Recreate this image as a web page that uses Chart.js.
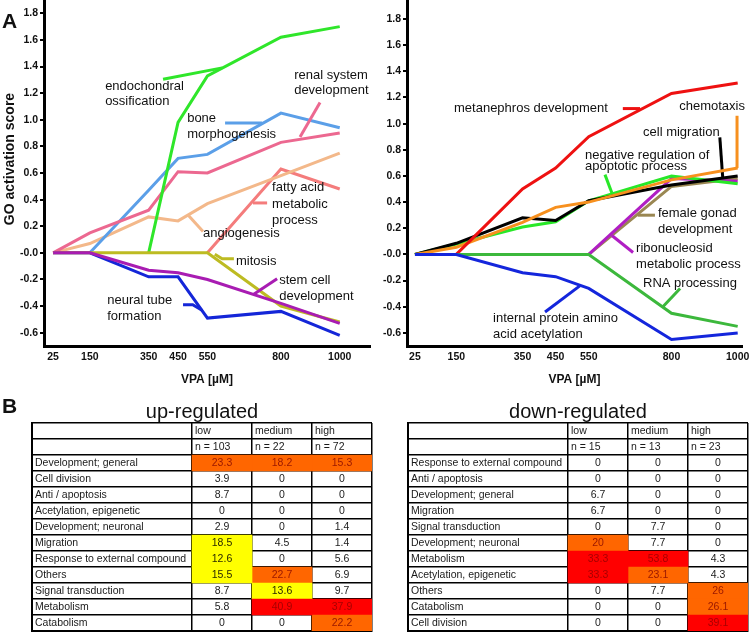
<!DOCTYPE html>
<html>
<head>
<meta charset="utf-8">
<title>VPA GO activation</title>
<script src="https://cdn.jsdelivr.net/npm/chart.js@4.4.1/dist/chart.umd.min.js"></script>
<style>
  body { margin: 0; background: #fff; }
  #page { position: relative; width: 750px; height: 632px; overflow: hidden; }
  canvas { position: absolute; }
  .panel { position: absolute; left: 2px; font: bold 21px/21px Arial, "Liberation Sans", sans-serif; color: #111; }
</style>
</head>
<body>
<div id="page">
  <canvas id="goUp" width="375" height="395" style="left:0;top:0"></canvas>
  <canvas id="goDown" width="375" height="395" style="left:375px;top:0"></canvas>
  <canvas id="tabUp" width="375" height="237" style="left:0;top:395px"></canvas>
  <canvas id="tabDown" width="375" height="237" style="left:375px;top:395px"></canvas>
  <div class="panel" style="top:10px">A</div>
  <div class="panel" style="top:395px">B</div>
</div>
<script>
// VPA doses (µM)
var doses = [25, 150, 350, 450, 550, 800, 1000];
var scoreTicks = [1.8, 1.6, 1.4, 1.2, 1.0, 0.8, 0.6, 0.4, 0.2, 0, -0.2, -0.4, -0.6];

// left panel, GO activation score per dose
var endochondralOssification = [null, null, 0, 0.98, 1.33, 1.62, 1.70];
var boneMorphogenesis = [null, 0, 0.47, 0.71, 0.74, 1.05, 0.94];
var renalSystemDevelopment = [0, 0.15, 0.32, 0.61, 0.60, 0.83, 0.90];
var fattyAcidMetabolic = [null, null, null, null, 0, 0.63, 0.48];
var angiogenesis = [0, 0.07, 0.27, 0.24, 0.37, 0.58, 0.75];
var mitosis = [0, 0, 0, 0, 0, -0.40, -0.52];
var stemCellDevelopment = [0, 0, -0.13, -0.15, -0.20, -0.38, -0.53];
var neuralTubeFormation = [0, 0, -0.18, -0.18, -0.49, -0.44, -0.62];

// right panel
var metanephrosDevelopment = [null, 0, 0.50, 0.66, 0.90, 1.23, 1.31];
var chemotaxis = [0, 0.055, 0.245, 0.36, 0.40, 0.57, 0.66];
var cellMigration = [0, 0.085, 0.28, 0.26, 0.41, 0.53, 0.60];
var negRegApoptotic = [0, 0.08, 0.21, 0.25, 0.41, 0.60, 0.54];
var ribonucleosidMetabolic = [null, null, null, null, 0, 0.58, 0.56];
var femaleGonadDevelopment = [null, null, null, null, 0, 0.52, 0.58];
var rnaProcessing = [0, 0, 0, 0, 0, -0.45, -0.55];
var proteinAcetylation = [0, 0, -0.14, -0.17, -0.26, -0.65, -0.60];

// tables (% of genes per category)
var upCategories = ['Development; general', 'Cell division', 'Anti / apoptosis', 'Acetylation, epigenetic',
  'Development; neuronal', 'Migration', 'Response to external compound', 'Others',
  'Signal transduction', 'Metabolism', 'Catabolism'];
var upN = [103, 22, 72];
var upLow = [23.3, 3.9, 8.7, 0, 2.9, 18.5, 12.6, 15.5, 8.7, 5.8, 0];
var upMedium = [18.2, 0, 0, 0, 0, 4.5, 0, 22.7, 13.6, 40.9, 0];
var upHigh = [15.3, 0, 0, 0, 1.4, 1.4, 5.6, 6.9, 9.7, 37.9, 22.2];
// highlight level in the figure: 0 none, 1 yellow, 2 orange, 3 red
var upLowMark = [2, 0, 0, 0, 0, 1, 1, 1, 0, 0, 0];
var upMediumMark = [2, 0, 0, 0, 0, 0, 0, 2, 1, 3, 0];
var upHighMark = [2, 0, 0, 0, 0, 0, 0, 0, 0, 3, 2];

var downCategories = ['Response to external compound', 'Anti / apoptosis', 'Development; general', 'Migration',
  'Signal transduction', 'Development; neuronal', 'Metabolism', 'Acetylation, epigenetic',
  'Others', 'Catabolism', 'Cell division'];
var downN = [15, 13, 23];
var downLow = [0, 0, 6.7, 6.7, 0, 20, 33.3, 33.3, 0, 0, 0];
var downMedium = [0, 0, 0, 0, 7.7, 7.7, 53.8, 23.1, 7.7, 0, 0];
var downHigh = [0, 0, 0, 0, 0, 0, 4.3, 4.3, 26, 26.1, 39.1];
var downLowMark = [0, 0, 0, 0, 0, 2, 3, 3, 0, 0, 0];
var downMediumMark = [0, 0, 0, 0, 0, 0, 3, 2, 0, 0, 0];
var downHighMark = [0, 0, 0, 0, 0, 0, 0, 0, 2, 2, 3];

Chart.defaults.font.family = 'Arial, "Liberation Sans", sans-serif';
Chart.defaults.animation = false;

var narrow = '"Liberation Sans Narrow", "Arial Narrow", Arial, sans-serif';

function series(values, color) {
  return {
    data: doses.map(function (d, i) { return { x: d, y: values[i] }; }),
    borderColor: color, borderWidth: 3, pointRadius: 0, fill: false
  };
}

// short connector from a term label to its line
function leader(points, color) {
  return {
    data: points.map(function (p) { return { x: p[0], y: p[1] }; }),
    borderColor: color, borderWidth: 3, pointRadius: 0, fill: false
  };
}

function labelPlugin(items, yTitle) {
  return {
    id: 'termLabels',
    afterDatasetsDraw: function (chart) {
      var ctx = chart.ctx, xs = chart.scales.x, ys = chart.scales.y;
      ctx.save();
      ctx.font = '13px Arial, "Liberation Sans", sans-serif';
      ctx.fillStyle = '#111';
      ctx.textBaseline = 'middle';
      items.forEach(function (it) {
        var px = xs.getPixelForValue(it.at[0]);
        var py = ys.getPixelForValue(it.at[1]);
        ctx.textAlign = it.align || 'left';
        it.text.forEach(function (t, k) {
          ctx.fillText(t, px, py + k * (it.gap || 16));
        });
      });
      if (yTitle) {
        ctx.translate(10, 159);
        ctx.rotate(-Math.PI / 2);
        ctx.textAlign = 'center';
        ctx.font = 'bold 14px Arial, "Liberation Sans", sans-serif';
        ctx.fillText(yTitle, 0, 0);
      }
      ctx.restore();
    }
  };
}

function goChart(id, datasets, xMin, xMax, yMax, axisWidth, padRight, items, yTitle) {
  return new Chart(document.getElementById(id), {
    type: 'line',
    data: { datasets: datasets },
    options: {
      responsive: false,
      layout: { padding: { left: 0, right: padRight, top: 0, bottom: 0 } },
      plugins: { legend: { display: false }, tooltip: { enabled: false } },
      scales: {
        x: {
          type: 'linear', min: xMin, max: xMax,
          afterBuildTicks: function (s) { s.ticks = doses.map(function (v) { return { value: v }; }); },
          afterFit: function (s) { s.height = 49; s.paddingLeft = 0; s.paddingRight = 0; },
          ticks: { autoSkip: false, maxRotation: 0, padding: 5, color: '#111',
                   font: { family: narrow, size: 10.5, weight: 'bold' }, callback: function (v) { return String(v); } },
          grid: { display: true, drawOnChartArea: false, drawTicks: false },
          border: { color: '#000', width: 3 },
          title: { display: true, text: 'VPA [µM]', color: '#111', font: { size: 12, weight: 'bold' },
                   padding: { top: 4, bottom: 8 } }
        },
        y: {
          type: 'linear', min: -0.7, max: yMax,
          afterBuildTicks: function (s) { s.ticks = scoreTicks.map(function (v) { return { value: v }; }); },
          afterFit: function (s) { s.width = axisWidth; s.paddingTop = 0; s.paddingBottom = 0; },
          ticks: { padding: 2, color: '#111', font: { family: narrow, size: 10.5, weight: 'bold' },
                   callback: function (v) { return Math.abs(v) < 1e-9 ? '-0.0' : v.toFixed(1); } },
          grid: { display: true, drawOnChartArea: false, drawTicks: true, tickLength: 4, color: '#000', lineWidth: 2 },
          border: { color: '#000', width: 3 }
        }
      }
    },
    plugins: [labelPlugin(items, yTitle)]
  });
}

goChart('goUp', [
  leader([[705, -0.315], [787, -0.195]], '#a81cb2'),
  series(stemCellDevelopment, '#a81cb2'),
  leader([[575, -0.01], [600, -0.045], [640, -0.045]], '#bdbb22'),
  series(mitosis, '#bdbb22'),
  leader([[467, -0.39], [500, -0.39], [530, -0.43]], '#1426d8'),
  series(neuralTubeFormation, '#1426d8'),
  leader([[399, 1.305], [600, 1.39]], '#2fe62a'),
  series(endochondralOssification, '#2fe62a'),
  leader([[865, 0.87], [933, 1.13]], '#ec6890'),
  series(renalSystemDevelopment, '#ec6890'),
  leader([[610, 0.975], [736, 0.975]], '#5b9fe8'),
  series(boneMorphogenesis, '#5b9fe8'),
  leader([[484, 0.285], [535, 0.16]], '#f3b88a'),
  series(angiogenesis, '#f3b88a'),
  leader([[705, 0.375], [753, 0.375]], '#f47c7c'),
  series(fattyAcidMetabolic, '#f47c7c')
], -6, 1103, 1.9, 44, 5, [
  { text: ['endochondral', 'ossification'], at: [202, 1.253], gap: 15 },
  { text: ['bone', 'morphogenesis'], at: [481, 1.013] },
  { text: ['renal system', 'development'], at: [845, 1.335], gap: 15 },
  { text: ['fatty acid', 'metabolic', 'process'], at: [770, 0.488], gap: 16.5 },
  { text: ['angiogenesis'], at: [535, 0.143] },
  { text: ['mitosis'], at: [647, -0.068] },
  { text: ['stem cell', 'development'], at: [794, -0.21] },
  { text: ['neural tube', 'formation'], at: [209, -0.36] }
], 'GO activation score');

goChart('goDown', [
  leader([[523, -0.24], [418, -0.44]], '#1426dc'),
  series(proteinAcetylation, '#1426dc'),
  leader([[774, -0.40], [826, -0.26]], '#3cb83c'),
  series(rnaProcessing, '#3cb83c'),
  leader([[653, 1.115], [705, 1.115]], '#ee1111'),
  series(metanephrosDevelopment, '#ee1111'),
  leader([[998, 0.66], [998, 1.06]], '#f7901e'),
  series(chemotaxis, '#f7901e'),
  leader([[955, 0.58], [946, 0.895]], '#000000'),
  series(cellMigration, '#000000'),
  leader([[599, 0.61], [620, 0.47]], '#28e828'),
  series(negRegApoptotic, '#28e828'),
  leader([[620, 0.145], [684, 0.015]], '#b01ec4'),
  series(ribonucleosidMetabolic, '#b01ec4'),
  leader([[698, 0.30], [750, 0.30]], '#9a8752'),
  series(femaleGonadDevelopment, '#9a8752')
], 1, 1013, 1.945, 32, 8, [
  { text: ['metanephros development'], at: [608, 1.116], align: 'right' },
  { text: ['chemotaxis'], at: [1022, 1.13], align: 'right' },
  { text: ['cell migration'], at: [714, 0.933] },
  { text: ['negative regulation of', 'apoptotic process'], at: [539, 0.757], gap: 11.5 },
  { text: ['female gonad', 'development'], at: [759, 0.313] },
  { text: ['ribonucleosid', 'metabolic process'], at: [693, 0.046] },
  { text: ['RNA processing'], at: [714, -0.222] },
  { text: ['internal protein amino', 'acid acetylation'], at: [261, -0.489] }
], null);

// ---- tables, drawn as floating bars on a category scale ----
var cellFill = ['rgba(0,0,0,0)', '#ffff00', '#ff6600', '#ff0000'];
var cellInk = ['#1a1a1a', '#2a2a00', '#9a1800', '#a80000'];
var colEdges = [0, 8, 11, 14, 17];
var colNames = ['low', 'medium', 'high'];

function tableChart(id, title, categories, n, cols, marks, padLeft, padRight) {
  var rows = ['head', 'n'].concat(categories);
  var datasets = cols.map(function (vals, c) {
    return {
      data: rows.map(function () { return [colEdges[c + 1], colEdges[c + 2]]; }),
      backgroundColor: rows.map(function (r, i) { return i < 2 ? cellFill[0] : cellFill[marks[c][i - 2]]; }),
      borderWidth: 0, barPercentage: 1, categoryPercentage: 1, grouped: false
    };
  });
  var textPlugin = {
    id: 'cellText',
    afterDraw: function (chart) {
      var ctx = chart.ctx, xs = chart.scales.x, ys = chart.scales.y, area = chart.chartArea;
      ctx.save();
      ctx.fillStyle = '#111';
      ctx.font = '20px Arial, "Liberation Sans", sans-serif';
      ctx.textAlign = 'center';
      ctx.textBaseline = 'alphabetic';
      ctx.fillText(title, (area.left + area.right) / 2, 23);
      ctx.font = '10.5px "Liberation Sans", Arial, sans-serif';
      ctx.textBaseline = 'middle';
      rows.forEach(function (r, i) {
        var y = ys.getPixelForValue(i) + 0.5;
        ctx.textAlign = 'left';
        ctx.fillStyle = cellInk[0];
        if (i >= 2) ctx.fillText(categories[i - 2], xs.getPixelForValue(0) + 3, y);
        cols.forEach(function (vals, c) {
          if (i === 0) {
            ctx.textAlign = 'left';
            ctx.fillStyle = cellInk[0];
            ctx.fillText(colNames[c], xs.getPixelForValue(colEdges[c + 1]) + 3, y);
          } else if (i === 1) {
            ctx.textAlign = 'left';
            ctx.fillStyle = cellInk[0];
            ctx.fillText('n = ' + n[c], xs.getPixelForValue(colEdges[c + 1]) + 3, y);
          } else {
            ctx.textAlign = 'center';
            ctx.fillStyle = cellInk[marks[c][i - 2]];
            ctx.fillText(String(vals[i - 2]), xs.getPixelForValue((colEdges[c + 1] + colEdges[c + 2]) / 2), y);
          }
        });
      });
      ctx.restore();
    }
  };
  return new Chart(document.getElementById(id), {
    type: 'bar',
    data: { labels: rows, datasets: datasets },
    options: {
      indexAxis: 'y',
      responsive: false,
      layout: { padding: { left: padLeft, right: padRight, top: 28, bottom: 1 } },
      plugins: { legend: { display: false }, tooltip: { enabled: false } },
      scales: {
        x: {
          type: 'linear', min: 0, max: 17, z: 1,
          afterBuildTicks: function (s) { s.ticks = colEdges.map(function (v) { return { value: v }; }); },
          afterFit: function (s) { s.height = 0; s.paddingLeft = 0; s.paddingRight = 0; },
          ticks: { display: false },
          grid: { color: '#000', lineWidth: 1.5, drawTicks: false },
          border: { color: '#000', width: 2 }
        },
        y: {
          type: 'category', offset: true, z: 1,
          afterFit: function (s) { s.width = 0; s.paddingTop = 0; s.paddingBottom = 0; },
          ticks: { display: false },
          grid: { offset: true, color: '#000', lineWidth: 1.5, drawTicks: false },
          border: { color: '#000', width: 2 }
        }
      }
    },
    plugins: [textPlugin]
  });
}

tableChart('tabUp', 'up-regulated', upCategories, upN, [upLow, upMedium, upHigh],
  [upLowMark, upMediumMark, upHighMark], 32, 3);
tableChart('tabDown', 'down-regulated', downCategories, downN, [downLow, downMedium, downHigh],
  [downLowMark, downMediumMark, downHighMark], 33, 2);
</script>
</body>
</html>
